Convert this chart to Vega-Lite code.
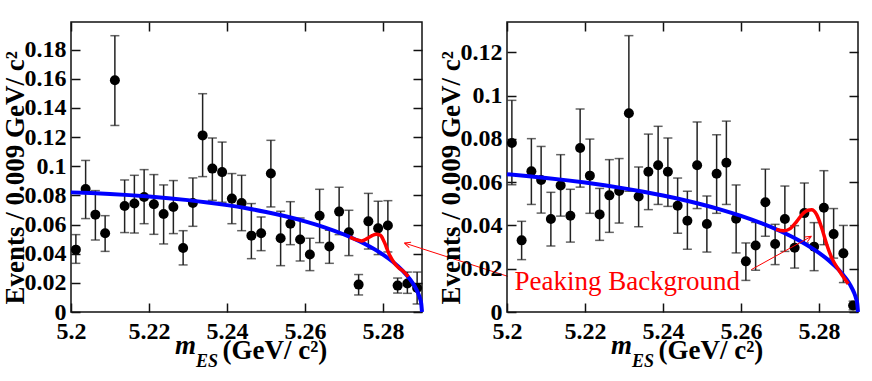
{
  "$schema": "https://vega.github.io/schema/vega-lite/v6.json",
  "padding": {"left": 0, "top": 20, "right": 0, "bottom": 0},
  "bounds": "flush",
  "spacing": 85,
  "config": {
    "font": "Liberation Serif, Times New Roman, serif",
    "view": {"stroke": "#111", "strokeWidth": 1.5},
    "axis": {"grid": false}
  },
  "datasets": {
    "one": [{}],
    "pL": [
      {"m":5.20125,"v":0.0428,"lo":0.0334,"hi":0.0531},{"m":5.20375,"v":0.0844,"lo":0.0641,"hi":0.104},
      {"m":5.20625,"v":0.0668,"lo":0.0494,"hi":0.0833},{"m":5.20875,"v":0.054,"lo":0.0416,"hi":0.0661},
      {"m":5.21125,"v":0.159,"lo":0.128,"hi":0.1896},{"m":5.21375,"v":0.0727,"lo":0.0545,"hi":0.0906},
      {"m":5.21625,"v":0.0744,"lo":0.0542,"hi":0.0938},{"m":5.21875,"v":0.0789,"lo":0.0606,"hi":0.0977},
      {"m":5.22125,"v":0.0739,"lo":0.0533,"hi":0.0943},{"m":5.22375,"v":0.0673,"lo":0.0467,"hi":0.0872},
      {"m":5.22625,"v":0.0721,"lo":0.0538,"hi":0.0902},{"m":5.22875,"v":0.0439,"lo":0.0323,"hi":0.0558},
      {"m":5.23125,"v":0.0748,"lo":0.0588,"hi":0.092},{"m":5.23375,"v":0.1212,"lo":0.0929,"hi":0.1498},
      {"m":5.23625,"v":0.0984,"lo":0.0766,"hi":0.1194},{"m":5.23875,"v":0.096,"lo":0.0753,"hi":0.1166},
      {"m":5.24125,"v":0.0778,"lo":0.0606,"hi":0.095},{"m":5.24375,"v":0.0748,"lo":0.0558,"hi":0.0938},
      {"m":5.24625,"v":0.0524,"lo":0.0366,"hi":0.0744},{"m":5.24875,"v":0.054,"lo":0.0421,"hi":0.0652},
      {"m":5.25125,"v":0.095,"lo":0.0721,"hi":0.1178},{"m":5.25375,"v":0.0506,"lo":0.0318,"hi":0.0691},
      {"m":5.25625,"v":0.0606,"lo":0.0462,"hi":0.0757},{"m":5.25875,"v":0.0497,"lo":0.035,"hi":0.0645},
      {"m":5.26125,"v":0.0394,"lo":0.0284,"hi":0.0506},{"m":5.26375,"v":0.0661,"lo":0.0476,"hi":0.0842},
      {"m":5.26625,"v":0.0449,"lo":0.0334,"hi":0.0561},{"m":5.26875,"v":0.0689,"lo":0.0531,"hi":0.0856},
      {"m":5.27125,"v":0.0547,"lo":0.0387,"hi":0.0698},{"m":5.27375,"v":0.0188,"lo":0.0117,"hi":0.0257},
      {"m":5.27625,"v":0.0622,"lo":0.0432,"hi":0.0814},{"m":5.27875,"v":0.0574,"lo":0.0394,"hi":0.076},
      {"m":5.28125,"v":0.0593,"lo":0.0412,"hi":0.0764},{"m":5.28375,"v":0.0181,"lo":0.013,"hi":0.0233},
      {"m":5.28625,"v":0.0195,"lo":0.0128,"hi":0.0274},{"m":5.28875,"v":0.0165,"lo":0.0055,"hi":0.0274}
    ],
    "pR": [
      {"m":5.20125,"v":0.0781,"lo":0.0588,"hi":0.0978},{"m":5.20375,"v":0.0331,"lo":0.0242,"hi":0.0419},
      {"m":5.20625,"v":0.065,"lo":0.0497,"hi":0.0801},{"m":5.20875,"v":0.061,"lo":0.0457,"hi":0.0765},
      {"m":5.21125,"v":0.043,"lo":0.0305,"hi":0.0553},{"m":5.21375,"v":0.0585,"lo":0.0443,"hi":0.0727},
      {"m":5.21625,"v":0.0445,"lo":0.0323,"hi":0.0567},{"m":5.21875,"v":0.0758,"lo":0.0577,"hi":0.0938},
      {"m":5.22125,"v":0.063,"lo":0.0456,"hi":0.0799},{"m":5.22375,"v":0.0451,"lo":0.0331,"hi":0.0571},
      {"m":5.22625,"v":0.0539,"lo":0.0368,"hi":0.0704},{"m":5.22875,"v":0.0559,"lo":0.0411,"hi":0.0709},
      {"m":5.23125,"v":0.0918,"lo":0.0558,"hi":0.1277},{"m":5.23375,"v":0.0534,"lo":0.0394,"hi":0.067},
      {"m":5.23625,"v":0.0648,"lo":0.0473,"hi":0.0822},{"m":5.23875,"v":0.0678,"lo":0.0497,"hi":0.0858},
      {"m":5.24125,"v":0.0648,"lo":0.0488,"hi":0.0804},{"m":5.24375,"v":0.0491,"lo":0.0364,"hi":0.0619},
      {"m":5.24625,"v":0.0422,"lo":0.029,"hi":0.0558},{"m":5.24875,"v":0.0678,"lo":0.0478,"hi":0.0878},
      {"m":5.25125,"v":0.0407,"lo":0.0277,"hi":0.0536},{"m":5.25375,"v":0.0639,"lo":0.0456,"hi":0.0819},
      {"m":5.25625,"v":0.069,"lo":0.0497,"hi":0.0882},{"m":5.25875,"v":0.0431,"lo":0.0273,"hi":0.0587},
      {"m":5.26125,"v":0.0234,"lo":0.0146,"hi":0.0319},{"m":5.26375,"v":0.0307,"lo":0.0193,"hi":0.0414},
      {"m":5.26625,"v":0.0507,"lo":0.035,"hi":0.066},{"m":5.26875,"v":0.0314,"lo":0.0219,"hi":0.0405},
      {"m":5.27125,"v":0.043,"lo":0.028,"hi":0.0582},{"m":5.27375,"v":0.0297,"lo":0.0203,"hi":0.0399},
      {"m":5.27625,"v":0.0457,"lo":0.0319,"hi":0.0596},{"m":5.27875,"v":0.0302,"lo":0.0191,"hi":0.0413},
      {"m":5.28125,"v":0.0482,"lo":0.0311,"hi":0.0653},{"m":5.28375,"v":0.036,"lo":0.0249,"hi":0.0478},
      {"m":5.28625,"v":0.0271,"lo":0.0136,"hi":0.04},{"m":5.28875,"v":0.003,"lo":0.001,"hi":0.005}
    ],
    "bL": [
      {"m":5.2,"v":0.0821},{"m":5.205,"v":0.0816},{"m":5.21,"v":0.081},{"m":5.215,"v":0.0802},
      {"m":5.22,"v":0.07925},{"m":5.225,"v":0.07811},{"m":5.23,"v":0.07677},{"m":5.235,"v":0.07519},
      {"m":5.24,"v":0.07333},{"m":5.245,"v":0.07117},{"m":5.25,"v":0.06864},{"m":5.255,"v":0.06568},
      {"m":5.26,"v":0.06221},{"m":5.265,"v":0.05811},{"m":5.27,"v":0.05317},{"m":5.275,"v":0.04711},
      {"m":5.28,"v":0.03936},{"m":5.2825,"v":0.03448},{"m":5.285,"v":0.02847},{"m":5.287,"v":0.02226},
      {"m":5.288,"v":0.01826},{"m":5.289,"v":0.01297},{"m":5.2895,"v":0.00919},{"m":5.2898,"v":0.0058},
      {"m":5.29,"v":0}
    ],
    "bR": [
      {"m":5.2,"v":0.0637},{"m":5.205,"v":0.06288},{"m":5.21,"v":0.06196},{"m":5.215,"v":0.06094},
      {"m":5.22,"v":0.0598},{"m":5.225,"v":0.05854},{"m":5.23,"v":0.05713},{"m":5.235,"v":0.05556},
      {"m":5.24,"v":0.05382},{"m":5.245,"v":0.05187},{"m":5.25,"v":0.04968},{"m":5.255,"v":0.04722},
      {"m":5.26,"v":0.04442},{"m":5.265,"v":0.04119},{"m":5.27,"v":0.03743},{"m":5.275,"v":0.03294},
      {"m":5.28,"v":0.02733},{"m":5.2825,"v":0.02386},{"m":5.285,"v":0.01964},{"m":5.287,"v":0.01531},
      {"m":5.288,"v":0.01254},{"m":5.289,"v":0.00889},{"m":5.2895,"v":0.0063},{"m":5.2898,"v":0.004},
      {"m":5.29,"v":0}
    ],
    "rL": [
      {"m":5.2715,"v":0.0514},{"m":5.273,"v":0.0497},{"m":5.2745,"v":0.0488},{"m":5.276,"v":0.0505},
      {"m":5.2772,"v":0.0524},{"m":5.2783,"v":0.0533},{"m":5.2793,"v":0.0527},{"m":5.2803,"v":0.0482},
      {"m":5.2815,"v":0.0402},{"m":5.2828,"v":0.034},{"m":5.284,"v":0.0304},{"m":5.2852,"v":0.028},
      {"m":5.2865,"v":0.0242}
    ],
    "rR": [
      {"m":5.269,"v":0.0382},{"m":5.271,"v":0.0375},{"m":5.2726,"v":0.0385},{"m":5.2743,"v":0.0419},
      {"m":5.276,"v":0.0457},{"m":5.2772,"v":0.047},{"m":5.2781,"v":0.0472},{"m":5.2794,"v":0.045},
      {"m":5.2807,"v":0.0388},{"m":5.282,"v":0.0311},{"m":5.2833,"v":0.0249},{"m":5.285,"v":0.0196},
      {"m":5.2867,"v":0.015},{"m":5.2875,"v":0.013}
    ]
  },
  "hconcat": [
    {
      "width": 351, "height": 290,
      "resolve": {"axis": {"x": "independent", "y": "independent"}},
      "layer": [
        {
          "data": {"name": "pL"},
          "mark": {"type": "errorbar", "color": "#222", "thickness": 1.5, "ticks": {"size": 9, "thickness": 1.5}},
          "encoding": {
            "x": {"field": "m", "type": "quantitative", "scale": {"domain": [5.2, 5.29], "nice": false, "zero": false},
              "axis": {"orient": "bottom", "values": [5.2, 5.22, 5.24, 5.26, 5.28], "format": ".2~f", "domain": false,
                "tickSize": -9, "tickWidth": 1.5, "tickColor": "#111", "labelPadding": 16, "labelFontSize": 24, "labelFontWeight": "bold",
                "labelColor": "#000", "labelFont": "Liberation Serif, Times New Roman, serif", "labelFlush": false, "labelOverlap": false,
                "title": "(GeV/  c²)", "titleX": 151, "titleY": 46, "titleAlign": "left", "titleBaseline": "alphabetic",
                "titleFontSize": 27, "titleFontWeight": "bold", "titleFont": "Liberation Serif, Times New Roman, serif", "titleColor": "#000"}},
            "y": {"field": "lo", "type": "quantitative", "scale": {"domain": [0, 0.199], "nice": false, "zero": false},
              "axis": {"orient": "left", "values": [0, 0.02, 0.04, 0.06, 0.08, 0.1, 0.12, 0.14, 0.16, 0.18], "format": ".2~f", "domain": false,
                "tickSize": -9, "tickWidth": 1.5, "tickColor": "#111", "labelPadding": 14, "labelFontSize": 24, "labelFontWeight": "bold",
                "labelColor": "#000", "labelFont": "Liberation Serif, Times New Roman, serif", "labelFlush": false, "labelOverlap": false,
                "title": "Events / 0.009 GeV/     c²", "titleAngle": 270, "titleX": -69, "titleY": 282, "titleAlign": "left", "titleBaseline": "top",
                "titleFontSize": 27, "titleFontWeight": "bold", "titleFont": "Liberation Serif, Times New Roman, serif", "titleColor": "#000"}},
            "y2": {"field": "hi"}
          }
        },
        {
          "data": {"name": "pL"},
          "mark": {"type": "point", "shape": "circle", "filled": true, "color": "#000", "size": 100, "opacity": 1},
          "encoding": {
            "x": {"field": "m", "type": "quantitative", "scale": {"domain": [5.2, 5.29], "nice": false, "zero": false}, "axis": null},
            "y": {"field": "v", "type": "quantitative", "scale": {"domain": [0, 0.199], "nice": false, "zero": false}, "axis": null}
          }
        },
        {
          "data": {"name": "bL"},
          "mark": {"type": "line", "color": "#0000ff", "strokeWidth": 4, "interpolate": "monotone"},
          "encoding": {
            "x": {"field": "m", "type": "quantitative", "scale": {"domain": [5.2, 5.29], "nice": false, "zero": false}, "axis": null},
            "y": {"field": "v", "type": "quantitative", "scale": {"domain": [0, 0.199], "nice": false, "zero": false}, "axis": null}
          }
        },
        {
          "data": {"name": "rL"},
          "mark": {"type": "line", "color": "#ff0000", "strokeWidth": 3.5, "interpolate": "monotone"},
          "encoding": {
            "x": {"field": "m", "type": "quantitative", "scale": {"domain": [5.2, 5.29], "nice": false, "zero": false}, "axis": null},
            "y": {"field": "v", "type": "quantitative", "scale": {"domain": [0, 0.199], "nice": false, "zero": false}, "axis": null}
          }
        },
        {
          "data": {"name": "one"},
          "mark": {"type": "rule", "color": "#ff0000", "strokeWidth": 1},
          "encoding": {
            "x": {"datum": 5.31197, "type": "quantitative", "scale": {"domain": [5.2, 5.29], "nice": false, "zero": false}, "axis": null},
            "x2": {"datum": 5.28549},
            "y": {"datum": 0.02449, "type": "quantitative", "scale": {"domain": [0, 0.199], "nice": false, "zero": false}, "axis": null},
            "y2": {"datum": 0.04734}
          }
        },
        {
          "data": {"name": "one"},
          "mark": {"type": "point", "shape": "M 0 0 L -1 -0.45 M 0 0 L -1 0.45", "filled": false, "stroke": "#ff0000", "strokeWidth": 1, "size": 150, "angle": 198.7, "opacity": 1},
          "encoding": {
            "x": {"datum": 5.28549, "type": "quantitative", "scale": {"domain": [5.2, 5.29], "nice": false, "zero": false}, "axis": null},
            "y": {"datum": 0.04734, "type": "quantitative", "scale": {"domain": [0, 0.199], "nice": false, "zero": false}, "axis": null}
          }
        },
        {
          "data": {"name": "one"},
          "mark": {"type": "text", "text": "m", "font": "Liberation Serif, Times New Roman, serif", "fontSize": 27, "fontWeight": "bold", "fontStyle": "italic", "align": "left", "baseline": "alphabetic", "color": "#000"},
          "encoding": {
            "x": {"datum": 5.22667, "type": "quantitative", "scale": {"domain": [5.2, 5.29], "nice": false, "zero": false}, "axis": null},
            "y": {"datum": -0.02902, "type": "quantitative", "scale": {"domain": [0, 0.199], "nice": false, "zero": false}, "axis": null}
          }
        },
        {
          "data": {"name": "one"},
          "mark": {"type": "text", "text": "ES", "font": "Liberation Serif, Times New Roman, serif", "fontSize": 18, "fontWeight": "bold", "fontStyle": "italic", "align": "left", "baseline": "alphabetic", "color": "#000"},
          "encoding": {
            "x": {"datum": 5.23205, "type": "quantitative", "scale": {"domain": [5.2, 5.29], "nice": false, "zero": false}, "axis": null},
            "y": {"datum": -0.03773, "type": "quantitative", "scale": {"domain": [0, 0.199], "nice": false, "zero": false}, "axis": null}
          }
        },
        {
          "data": {"name": "pL"},
          "mark": {"type": "point", "opacity": 0},
          "encoding": {
            "x": {"field": "m", "type": "quantitative", "scale": {"domain": [5.2, 5.29], "nice": false, "zero": false},
              "axis": {"orient": "top", "values": [5.2, 5.22, 5.24, 5.26, 5.28], "labels": false, "domain": false, "tickSize": -9, "tickWidth": 1.5, "tickColor": "#111", "title": null}},
            "y": {"field": "v", "type": "quantitative", "scale": {"domain": [0, 0.199], "nice": false, "zero": false},
              "axis": {"orient": "right", "values": [0, 0.02, 0.04, 0.06, 0.08, 0.1, 0.12, 0.14, 0.16, 0.18], "labels": false, "domain": false, "tickSize": -9, "tickWidth": 1.5, "tickColor": "#111", "title": null}}
          }
        }
      ]
    },
    {
      "width": 351, "height": 290,
      "resolve": {"axis": {"x": "independent", "y": "independent"}},
      "layer": [
        {
          "data": {"name": "pR"},
          "mark": {"type": "errorbar", "color": "#222", "thickness": 1.5, "ticks": {"size": 9, "thickness": 1.5}},
          "encoding": {
            "x": {"field": "m", "type": "quantitative", "scale": {"domain": [5.2, 5.29], "nice": false, "zero": false},
              "axis": {"orient": "bottom", "values": [5.2, 5.22, 5.24, 5.26, 5.28], "format": ".2~f", "domain": false,
                "tickSize": -9, "tickWidth": 1.5, "tickColor": "#111", "labelPadding": 16, "labelFontSize": 24, "labelFontWeight": "bold",
                "labelColor": "#000", "labelFont": "Liberation Serif, Times New Roman, serif", "labelFlush": false, "labelOverlap": false,
                "title": "(GeV/  c²)", "titleX": 151, "titleY": 46, "titleAlign": "left", "titleBaseline": "alphabetic",
                "titleFontSize": 27, "titleFontWeight": "bold", "titleFont": "Liberation Serif, Times New Roman, serif", "titleColor": "#000"}},
            "y": {"field": "lo", "type": "quantitative", "scale": {"domain": [0, 0.134], "nice": false, "zero": false},
              "axis": {"orient": "left", "values": [0, 0.02, 0.04, 0.06, 0.08, 0.1, 0.12], "format": ".2~f", "domain": false,
                "tickSize": -9, "tickWidth": 1.5, "tickColor": "#111", "labelPadding": 14, "labelFontSize": 24, "labelFontWeight": "bold",
                "labelColor": "#000", "labelFont": "Liberation Serif, Times New Roman, serif", "labelFlush": false, "labelOverlap": false,
                "title": "Events / 0.009 GeV/     c²", "titleAngle": 270, "titleX": -69, "titleY": 282, "titleAlign": "left", "titleBaseline": "top",
                "titleFontSize": 27, "titleFontWeight": "bold", "titleFont": "Liberation Serif, Times New Roman, serif", "titleColor": "#000"}},
            "y2": {"field": "hi"}
          }
        },
        {
          "data": {"name": "pR"},
          "mark": {"type": "point", "shape": "circle", "filled": true, "color": "#000", "size": 100, "opacity": 1},
          "encoding": {
            "x": {"field": "m", "type": "quantitative", "scale": {"domain": [5.2, 5.29], "nice": false, "zero": false}, "axis": null},
            "y": {"field": "v", "type": "quantitative", "scale": {"domain": [0, 0.134], "nice": false, "zero": false}, "axis": null}
          }
        },
        {
          "data": {"name": "bR"},
          "mark": {"type": "line", "color": "#0000ff", "strokeWidth": 4, "interpolate": "monotone"},
          "encoding": {
            "x": {"field": "m", "type": "quantitative", "scale": {"domain": [5.2, 5.29], "nice": false, "zero": false}, "axis": null},
            "y": {"field": "v", "type": "quantitative", "scale": {"domain": [0, 0.134], "nice": false, "zero": false}, "axis": null}
          }
        },
        {
          "data": {"name": "rR"},
          "mark": {"type": "line", "color": "#ff0000", "strokeWidth": 3.5, "interpolate": "monotone"},
          "encoding": {
            "x": {"field": "m", "type": "quantitative", "scale": {"domain": [5.2, 5.29], "nice": false, "zero": false}, "axis": null},
            "y": {"field": "v", "type": "quantitative", "scale": {"domain": [0, 0.134], "nice": false, "zero": false}, "axis": null}
          }
        },
        {
          "data": {"name": "one"},
          "mark": {"type": "rule", "color": "#ff0000", "strokeWidth": 1},
          "encoding": {
            "x": {"datum": 5.26264, "type": "quantitative", "scale": {"domain": [5.2, 5.29], "nice": false, "zero": false}, "axis": null},
            "x2": {"datum": 5.27805},
            "y": {"datum": 0.01958, "type": "quantitative", "scale": {"domain": [0, 0.134], "nice": false, "zero": false}, "axis": null},
            "y2": {"datum": 0.03497}
          }
        },
        {
          "data": {"name": "one"},
          "mark": {"type": "point", "shape": "M 0 0 L -1 -0.45 M 0 0 L -1 0.45", "filled": false, "stroke": "#ff0000", "strokeWidth": 1, "size": 150, "angle": 331, "opacity": 1},
          "encoding": {
            "x": {"datum": 5.27805, "type": "quantitative", "scale": {"domain": [5.2, 5.29], "nice": false, "zero": false}, "axis": null},
            "y": {"datum": 0.03497, "type": "quantitative", "scale": {"domain": [0, 0.134], "nice": false, "zero": false}, "axis": null}
          }
        },
        {
          "data": {"name": "one"},
          "mark": {"type": "text", "text": "Peaking Background", "font": "Liberation Serif, Times New Roman, serif", "fontSize": 27, "align": "left", "baseline": "alphabetic", "color": "#ff0000"},
          "encoding": {
            "x": {"datum": 5.2019, "type": "quantitative", "scale": {"domain": [5.2, 5.29], "nice": false, "zero": false}, "axis": null},
            "y": {"datum": 0.01002, "type": "quantitative", "scale": {"domain": [0, 0.134], "nice": false, "zero": false}, "axis": null}
          }
        },
        {
          "data": {"name": "one"},
          "mark": {"type": "text", "text": "m", "font": "Liberation Serif, Times New Roman, serif", "fontSize": 27, "fontWeight": "bold", "fontStyle": "italic", "align": "left", "baseline": "alphabetic", "color": "#000"},
          "encoding": {
            "x": {"datum": 5.22667, "type": "quantitative", "scale": {"domain": [5.2, 5.29], "nice": false, "zero": false}, "axis": null},
            "y": {"datum": -0.01954, "type": "quantitative", "scale": {"domain": [0, 0.134], "nice": false, "zero": false}, "axis": null}
          }
        },
        {
          "data": {"name": "one"},
          "mark": {"type": "text", "text": "ES", "font": "Liberation Serif, Times New Roman, serif", "fontSize": 18, "fontWeight": "bold", "fontStyle": "italic", "align": "left", "baseline": "alphabetic", "color": "#000"},
          "encoding": {
            "x": {"datum": 5.23205, "type": "quantitative", "scale": {"domain": [5.2, 5.29], "nice": false, "zero": false}, "axis": null},
            "y": {"datum": -0.02541, "type": "quantitative", "scale": {"domain": [0, 0.134], "nice": false, "zero": false}, "axis": null}
          }
        },
        {
          "data": {"name": "pR"},
          "mark": {"type": "point", "opacity": 0},
          "encoding": {
            "x": {"field": "m", "type": "quantitative", "scale": {"domain": [5.2, 5.29], "nice": false, "zero": false},
              "axis": {"orient": "top", "values": [5.2, 5.22, 5.24, 5.26, 5.28], "labels": false, "domain": false, "tickSize": -9, "tickWidth": 1.5, "tickColor": "#111", "title": null}},
            "y": {"field": "v", "type": "quantitative", "scale": {"domain": [0, 0.134], "nice": false, "zero": false},
              "axis": {"orient": "right", "values": [0, 0.02, 0.04, 0.06, 0.08, 0.1, 0.12], "labels": false, "domain": false, "tickSize": -9, "tickWidth": 1.5, "tickColor": "#111", "title": null}}
          }
        }
      ]
    }
  ]
}
